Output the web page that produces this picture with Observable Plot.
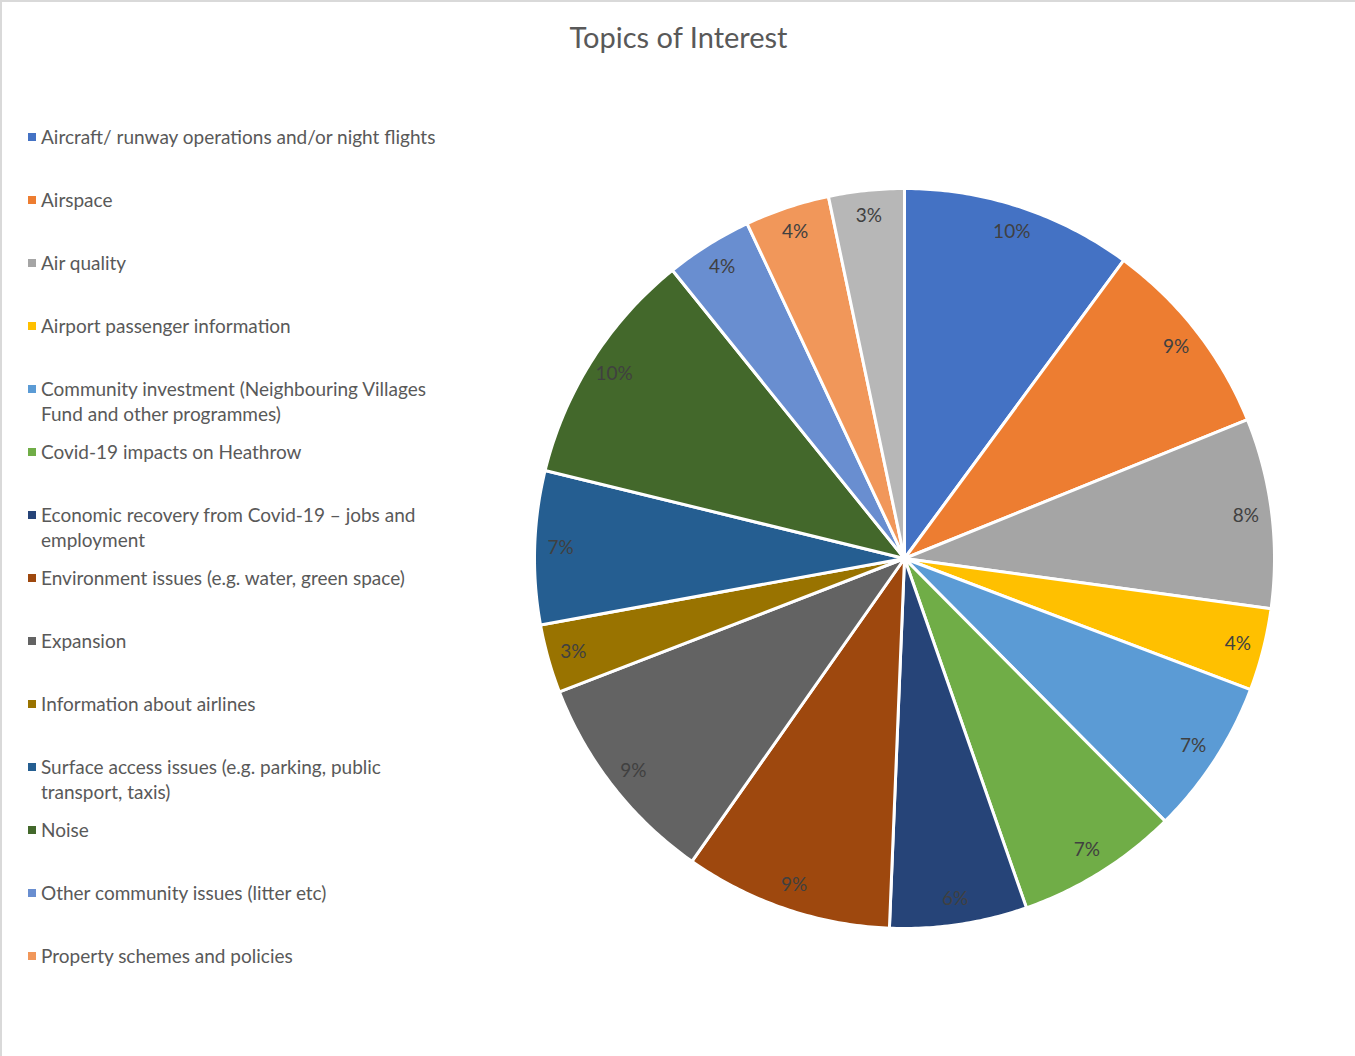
<!DOCTYPE html>
<html>
<head>
<meta charset="utf-8">
<script src="https://cdn.jsdelivr.net/npm/d3@7"></script>
<script src="https://cdn.jsdelivr.net/npm/@observablehq/plot@0.6"></script>
<style>
  body { margin: 0; background: #fff; }
  #chart { position: relative; width: 1355px; height: 1056px; overflow: hidden; font-family: Lato, "Open Sans", sans-serif; background: #fff; }
  #bt { position: absolute; left: 0; top: 0; width: 1355px; height: 2px; background: #d9d9d9; }
  #bl { position: absolute; left: 0; top: 0; width: 2px; height: 1056px; background: #d9d9d9; }
  #title { position: absolute; left: 0; width: 1357px; top: 19px; text-align: center; font-size: 29px; color: #595959; }
  .item { position: absolute; left: 41px; width: 415px; font-size: 19px; line-height: 25px; color: #595959; }
  .sw { position: absolute; left: -13px; top: 9px; width: 8px; height: 8px; }
  #pie { position: absolute; left: 524px; top: 178px; }
</style>
</head>
<body>
<div id="chart">
  <div id="bt"></div><div id="bl"></div>
  <div id="title">Topics of Interest</div>
  <div id="legend"></div>
  <div id="pie"></div>
</div>
<script>
const topics = [
  "Aircraft/ runway operations and/or night flights",
  "Airspace",
  "Air quality",
  "Airport passenger information",
  "Community investment (Neighbouring Villages Fund and other programmes)",
  "Covid-19 impacts on Heathrow",
  "Economic recovery from Covid-19 \u2013 jobs and employment",
  "Environment issues (e.g. water, green space)",
  "Expansion",
  "Information about airlines",
  "Surface access issues (e.g. parking, public transport, taxis)",
  "Noise",
  "Other community issues (litter etc)",
  "Property schemes and policies",
  "Other"
];
const shares = [10.1, 8.8, 8.3, 3.6, 6.8, 7.1, 6.0, 9.1, 9.4, 3.0, 6.7, 10.4, 3.8, 3.7, 3.3];
const colors = ["#4472C4", "#ED7D31", "#A5A5A5", "#FFC000", "#5B9BD5", "#70AD47",
  "#264478", "#9E480E", "#636363", "#997300", "#255E91", "#43682B",
  "#698ED0", "#F1975A", "#B7B7B7"];
const legendCount = 14; // legend in the original shows the first 14 entries

// Legend
const legend = document.getElementById("legend");
topics.slice(0, legendCount).forEach((t, i) => {
  const div = document.createElement("div");
  div.className = "item";
  div.style.top = (136 - 12.5 + i * 63) + "px";
  const sw = document.createElement("span");
  sw.className = "sw";
  sw.style.background = colors[i];
  div.appendChild(sw);
  div.appendChild(document.createTextNode(t));
  legend.appendChild(div);
});

// Pie geometry from the shares
const total = d3.sum(shares);
let acc = 0;
const features = [];
const labels = [];
shares.forEach((v, i) => {
  const a0 = acc / total * 2 * Math.PI;
  acc += v;
  const a1 = acc / total * 2 * Math.PI;
  const ring = [[0, 0]];
  const n = Math.max(4, Math.ceil((a1 - a0) / 0.01));
  for (let k = 0; k <= n; k++) {
    const a = a0 + (a1 - a0) * k / n;
    ring.push([Math.sin(a), -Math.cos(a)]);
  }
  ring.push([0, 0]);
  features.push({type: "Feature", properties: {topic: topics[i]}, geometry: {type: "Polygon", coordinates: [ring]}});
  const am = (a0 + a1) / 2;
  labels.push({x: 0.93 * Math.sin(am), y: -0.93 * Math.cos(am), text: Math.round(v / total * 100) + "%"});
});

const plot = Plot.plot({
  width: 760,
  height: 760,
  margin: 10,
  projection: {type: "identity", domain: {type: "MultiPoint", coordinates: [[-1, -1], [1, 1]]}},
  color: {domain: topics, range: colors},
  style: {fontFamily: "Lato, 'Open Sans', sans-serif", background: "transparent"},
  marks: [
    Plot.geo(features, {fill: d => d.properties.topic, stroke: "white", strokeWidth: 3, strokeLinejoin: "round"}),
    Plot.text(labels, {x: "x", y: "y", text: "text", fontSize: 19, fill: "#404040"})
  ]
});
document.getElementById("pie").appendChild(plot);
</script>
</body>
</html>
